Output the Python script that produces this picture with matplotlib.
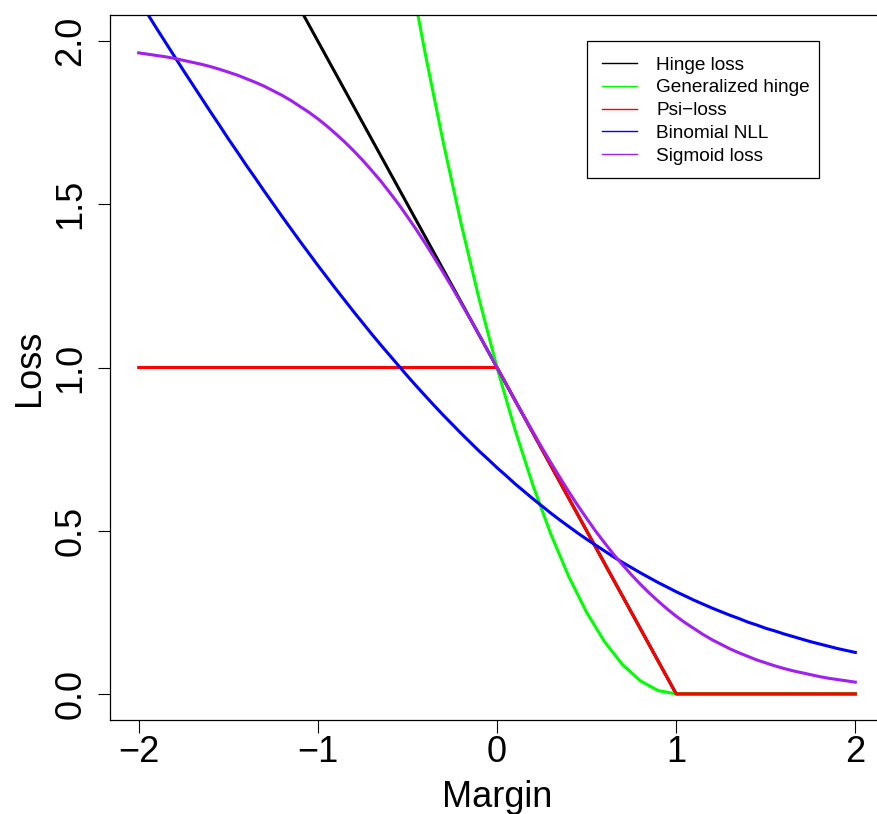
import matplotlib
matplotlib.use("Agg")
import matplotlib.pyplot as plt
from matplotlib.lines import Line2D
from matplotlib.patches import Rectangle

plt.rcParams['font.family'] = ['Liberation Sans', 'DejaVu Sans']

# Coarse margin grid (step 0.1) used for the generalized hinge
margin = [-2.0, -1.9, -1.8, -1.7, -1.6, -1.5, -1.4, -1.3, -1.2, -1.1,
          -1.0, -0.9, -0.8, -0.7, -0.6, -0.5, -0.4, -0.3, -0.2, -0.1,
          0.0, 0.1, 0.2, 0.3, 0.4, 0.5, 0.6, 0.7, 0.8, 0.9,
          1.0, 1.1, 1.2, 1.3, 1.4, 1.5, 1.6, 1.7, 1.8, 1.9, 2.0]

# Fine margin grid (step 0.05) used for the smooth curves
margin_fine = [-2.0, -1.95, -1.9, -1.85, -1.8, -1.75, -1.7, -1.65, -1.6, -1.55,
               -1.5, -1.45, -1.4, -1.35, -1.3, -1.25, -1.2, -1.15, -1.1, -1.05,
               -1.0, -0.95, -0.9, -0.85, -0.8, -0.75, -0.7, -0.65, -0.6, -0.55,
               -0.5, -0.45, -0.4, -0.35, -0.3, -0.25, -0.2, -0.15, -0.1, -0.05,
               0.0, 0.05, 0.1, 0.15, 0.2, 0.25, 0.3, 0.35, 0.4, 0.45,
               0.5, 0.55, 0.6, 0.65, 0.7, 0.75, 0.8, 0.85, 0.9, 0.95,
               1.0, 1.05, 1.1, 1.15, 1.2, 1.25, 1.3, 1.35, 1.4, 1.45,
               1.5, 1.55, 1.6, 1.65, 1.7, 1.75, 1.8, 1.85, 1.9, 1.95, 2.0]

# Piecewise-linear curves (breakpoints)
hinge_x = [-2.0, 1.0, 2.0]
hinge_y = [3.0, 0.0, 0.0]
psi_x = [-2.0, 0.0, 1.0, 2.0]
psi_y = [1.0, 1.0, 0.0, 0.0]

gen_hinge = [9.00, 8.41, 7.84, 7.29, 6.76, 6.25, 5.76, 5.29, 4.84, 4.41,
             4.00, 3.61, 3.24, 2.89, 2.56, 2.25, 1.96, 1.69, 1.44, 1.21,
             1.00, 0.81, 0.64, 0.49, 0.36, 0.25, 0.16, 0.09, 0.04, 0.01,
             0.0, 0.0, 0.0, 0.0, 0.0, 0.0, 0.0, 0.0, 0.0, 0.0, 0.0]

binomial = [2.127, 2.083, 2.039, 1.996, 1.953, 1.910, 1.868, 1.826, 1.784, 1.743,
            1.701, 1.661, 1.620, 1.581, 1.541, 1.502, 1.463, 1.425, 1.387, 1.350,
            1.313, 1.277, 1.241, 1.206, 1.171, 1.137, 1.103, 1.070, 1.038, 1.006,
            0.974, 0.943, 0.913, 0.883, 0.854, 0.826, 0.798, 0.771, 0.744, 0.719,
            0.693, 0.669, 0.644, 0.621, 0.598, 0.576, 0.554, 0.533, 0.513, 0.493,
            0.474, 0.456, 0.438, 0.420, 0.403, 0.387, 0.371, 0.356, 0.341, 0.327,
            0.313, 0.300, 0.287, 0.275, 0.263, 0.252, 0.241, 0.231, 0.220, 0.211,
            0.201, 0.193, 0.184, 0.176, 0.168, 0.160, 0.153, 0.146, 0.139, 0.133, 0.127]

sigmoid = [1.964, 1.960, 1.956, 1.952, 1.947, 1.941, 1.935, 1.929, 1.922, 1.914,
           1.905, 1.896, 1.885, 1.874, 1.862, 1.848, 1.834, 1.818, 1.800, 1.782,
           1.762, 1.740, 1.716, 1.691, 1.664, 1.635, 1.604, 1.572, 1.537, 1.501,
           1.462, 1.422, 1.380, 1.336, 1.291, 1.245, 1.197, 1.149, 1.100, 1.050,
           1.000, 0.950, 0.900, 0.851, 0.803, 0.755, 0.709, 0.664, 0.620, 0.578,
           0.538, 0.499, 0.463, 0.428, 0.396, 0.365, 0.336, 0.309, 0.284, 0.260,
           0.238, 0.218, 0.200, 0.182, 0.166, 0.152, 0.138, 0.126, 0.115, 0.104,
           0.095, 0.086, 0.078, 0.071, 0.065, 0.059, 0.053, 0.048, 0.044, 0.040, 0.036]

labels = ["Hinge loss", "Generalized hinge", "Psi\u2212loss", "Binomial NLL", "Sigmoid loss"]
colors = ["#000000", "#00FF00", "#FF0000", "#0000FF", "#A020F0"]

xticks = [-2, -1, 0, 1, 2]
xtick_labels = ["\u22122", "\u22121", "0", "1", "2"]
yticks = [0.0, 0.5, 1.0, 1.5, 2.0]
ytick_labels = ["0.0", "0.5", "1.0", "1.5", "2.0"]

W, H = 877, 814
fig = plt.figure(figsize=(W / 100, H / 100), dpi=100)
ax = fig.add_axes([110 / W, 1 - 720 / H, (884 - 110) / W, (720 - 15) / H])

lw = 2.2
ax.plot(hinge_x, hinge_y, color=colors[0], lw=lw, solid_joinstyle='round')
ax.plot(margin, gen_hinge, color=colors[1], lw=lw, solid_joinstyle='round')
ax.plot(psi_x, psi_y, color=colors[2], lw=lw, solid_joinstyle='round')
ax.plot(margin_fine, binomial, color=colors[3], lw=lw, solid_joinstyle='round')
ax.plot(margin_fine, sigmoid, color=colors[4], lw=lw, solid_joinstyle='round')

ax.set_xlim(-2.16, 2.16)
ax.set_ylim(-0.08, 2.08)
ax.set_xticks(xticks)
ax.set_xticklabels(xtick_labels)
ax.set_yticks(yticks)
ax.set_yticklabels(ytick_labels)

for s in ax.spines.values():
    s.set_linewidth(0.9)
ax.tick_params(axis='both', direction='out', length=9, width=0.8, labelsize=26)
ax.tick_params(axis='x', pad=2)
ax.tick_params(axis='y', pad=6.5)
for t in ax.get_yticklabels():
    t.set_rotation(90)
    t.set_va('center')

ax.set_xlabel("Margin", fontsize=26, labelpad=7)
ax.set_ylabel("Loss", fontsize=26, labelpad=4.5)

# Legend box (R-style, square corners)
box_l, box_t, box_r, box_b = 587, 41, 819, 178
ax.add_patch(Rectangle((box_l / W, 1 - box_b / H), (box_r - box_l) / W,
                       (box_b - box_t) / H, transform=fig.transFigure,
                       facecolor='white', edgecolor='black', lw=0.9,
                       zorder=4, clip_on=False))

handles = [Line2D([0], [0], color=c, lw=1) for c in colors]
leg = ax.legend(handles, labels, loc='upper left',
                bbox_to_anchor=(box_l / W, 1 - box_t / H), bbox_transform=fig.transFigure,
                fontsize=13.7, frameon=False, borderpad=0.8, labelspacing=0.29,
                handlelength=1.85, handletextpad=1.0, borderaxespad=0)
leg.set_zorder(6)

fig.savefig("out.png", dpi=100)
